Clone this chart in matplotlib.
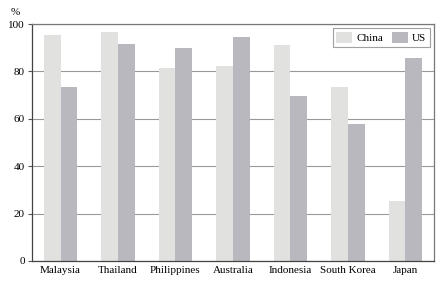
import numpy as np
import matplotlib.pyplot as plt

countries = ["Malaysia", "Thailand", "Philippines", "Australia", "Indonesia", "South Korea", "Japan"]
china = [95.3, 96.6, 81.4, 82.3, 91.2, 73.4, 25.5]
us = [73.5, 91.6, 89.8, 94.5, 69.6, 57.8, 85.6]

plt.rcParams['font.family'] = ['Liberation Serif', 'DejaVu Serif']

fig = plt.figure(figsize=(4.42, 2.83), dpi=100)
ax = fig.add_axes([0.072, 0.078, 0.910, 0.837])

x = np.arange(len(countries))
w = 0.29
ax.bar(x - w / 2, china, w, color="#e1e2df", label="China", zorder=2)
ax.bar(x + w / 2, us, w, color="#b9b8be", label="US", zorder=2)

ax.set_xlim(-0.5, len(countries) - 0.5)
ax.set_ylim(0, 100)
ax.set_yticks(range(0, 101, 20))
ax.set_xticks(x)
ax.set_xticklabels(countries, fontsize=8)
ax.tick_params(axis="y", labelsize=8, length=3, color="#555555", pad=2)
ax.tick_params(axis="x", length=0, pad=4)
ax.yaxis.grid(True, color="#999999", linewidth=0.8, zorder=0)
for s in ax.spines.values():
    s.set_color("#777777")
    s.set_linewidth(0.9)
ax.spines["left"].set_color("#444444")
ax.spines["bottom"].set_color("#444444")

fig.text(0.035, 0.955, "%", fontsize=8, ha="center", va="center")

leg = ax.legend(loc="upper right", fontsize=8, frameon=True, fancybox=False,
                edgecolor="#888888", handlelength=1.4, handleheight=1.2,
                ncol=2, columnspacing=0.8, handletextpad=0.4,
                borderaxespad=0.4, borderpad=0.3)
leg.get_frame().set_linewidth(0.8)

fig.savefig("out.png", dpi=100)
